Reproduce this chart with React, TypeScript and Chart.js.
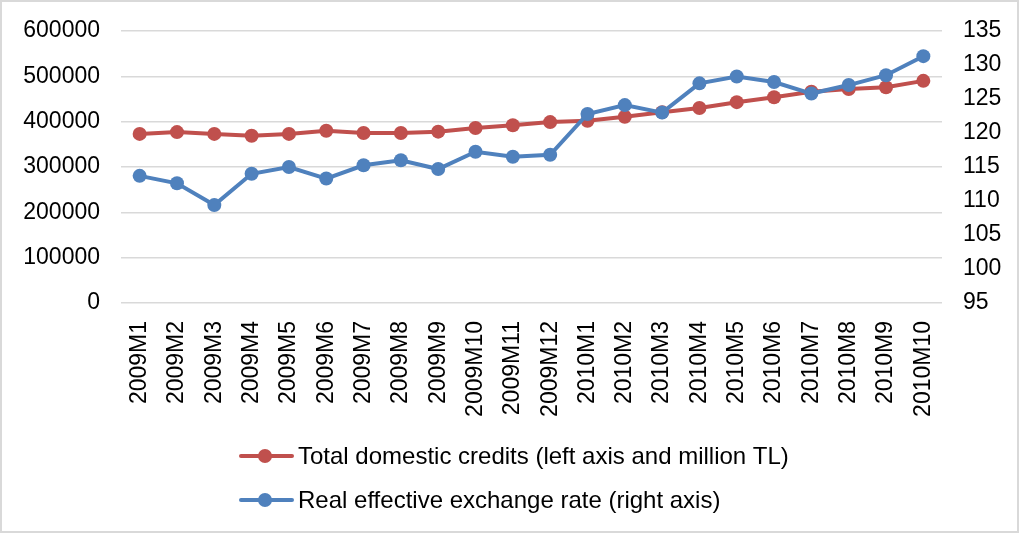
import React, { useEffect, useRef } from "react";
import { Chart, registerables } from "chart.js";

Chart.register(...registerables);

const categories = [
  "2009M1", "2009M2", "2009M3", "2009M4", "2009M5", "2009M6", "2009M7", "2009M8", "2009M9", "2009M10", "2009M11", "2009M12",
  "2010M1", "2010M2", "2010M3", "2010M4", "2010M5", "2010M6", "2010M7", "2010M8", "2010M9", "2010M10",
];

const totalDomesticCredits = [
  373000, 377000, 373000, 369000, 373000, 380000, 375000, 375000, 378000, 386000, 392000, 399000,
  402000, 411000, 421000, 430000, 443000, 454000, 466000, 472000, 476000, 490000,
];

const realEffectiveExchangeRate = [
  113.7, 112.6, 109.4, 114.0, 115.0, 113.3, 115.25, 116.0, 114.7, 117.25, 116.5, 116.8,
  122.8, 124.1, 123.0, 127.3, 128.3, 127.5, 125.8, 127.05, 128.5, 131.3,
];

const seriesLabels = [
  "Total domestic credits (left axis and million TL)",
  "Real effective exchange rate (right axis)",
];

const FONT = "'Liberation Sans', Arial, sans-serif";
const TICK_SIZE = 23;

const legendPlugin = {
  id: "customLegend",
  afterDraw(chart: any) {
    const ctx = chart.ctx;
    const rows = [456, 500];
    ctx.save();
    chart.data.datasets.forEach((ds: any, i: number) => {
      const y = rows[i];
      ctx.strokeStyle = ds.borderColor;
      ctx.lineWidth = 4;
      ctx.lineCap = "round";
      ctx.beginPath();
      ctx.moveTo(241, y);
      ctx.lineTo(292, y);
      ctx.stroke();
      ctx.fillStyle = ds.borderColor;
      ctx.beginPath();
      ctx.arc(265, y, 7, 0, Math.PI * 2);
      ctx.fill();
      ctx.fillStyle = "#000";
      ctx.font = `24px ${FONT}`;
      ctx.textBaseline = "middle";
      ctx.textAlign = "left";
      ctx.fillText(ds.label, 298, y + 1);
    });
    ctx.restore();
  },
};

export default function App() {
  const ref = useRef<HTMLCanvasElement>(null);
  useEffect(() => {
    document.body.style.margin = "0";
    const chart = new Chart(ref.current!, {
      type: "line",
      data: {
        labels: categories,
        datasets: [
          {
            label: seriesLabels[0],
            data: totalDomesticCredits,
            borderColor: "#C0504D",
            backgroundColor: "#C0504D",
            borderWidth: 4,
            pointRadius: 7,
            pointHoverRadius: 7,
            pointBorderWidth: 0,
            yAxisID: "y",
            order: 1,
          },
          {
            label: seriesLabels[1],
            data: realEffectiveExchangeRate,
            borderColor: "#4F81BD",
            backgroundColor: "#4F81BD",
            borderWidth: 4,
            pointRadius: 7,
            pointHoverRadius: 7,
            pointBorderWidth: 0,
            yAxisID: "y1",
            order: 0,
          },
        ],
      },
      options: {
        animation: false,
        responsive: false,
        maintainAspectRatio: false,
        layout: { padding: { top: 31, bottom: 100, left: 0, right: 0 } },
        plugins: { legend: { display: false }, tooltip: { enabled: false } },
        scales: {
          x: {
            offset: true,
            grid: { display: false, drawTicks: false },
            border: { display: false },
            ticks: {
              minRotation: 90,
              maxRotation: 90,
              autoSkip: false,
              padding: 18,
              color: "#000",
              font: { family: FONT, size: TICK_SIZE },
            },
            afterFit(scale: any) {
              scale.height = 130;
              scale.paddingLeft = 0;
              scale.paddingRight = 0;
            },
          },
          y: {
            position: "left",
            min: 0,
            max: 600000,
            ticks: {
              stepSize: 100000,
              padding: 21,
              color: "#000",
              font: { family: FONT, size: TICK_SIZE },
              callback: (v: any) => String(v),
            },
            grid: { color: "#d9d9d9", lineWidth: 1.5, drawTicks: false },
            border: { display: false },
            afterFit(scale: any) {
              scale.width = 121;
              scale.paddingTop = 0;
              scale.paddingBottom = 0;
            },
          },
          y1: {
            position: "right",
            min: 95,
            max: 135,
            ticks: {
              stepSize: 5,
              padding: 21,
              color: "#000",
              font: { family: FONT, size: TICK_SIZE },
              callback: (v: any) => String(v),
            },
            grid: { display: false, drawTicks: false },
            border: { display: false },
            afterFit(scale: any) {
              scale.width = 77;
              scale.paddingTop = 0;
              scale.paddingBottom = 0;
            },
          },
        },
      },
      plugins: [legendPlugin],
    } as any);
    return () => chart.destroy();
  }, []);
  return (
    <div style={{ position: "absolute", left: 0, top: 0, width: 1019, height: 533, background: "#fff" }}>
      <canvas ref={ref} width={1019} height={533} style={{ display: "block" }} />
      <div style={{ position: "absolute", left: 0, top: 0, width: 1019, height: 533, boxSizing: "border-box", border: "2px solid #d9d9d9", pointerEvents: "none" }} />
    </div>
  );
}
